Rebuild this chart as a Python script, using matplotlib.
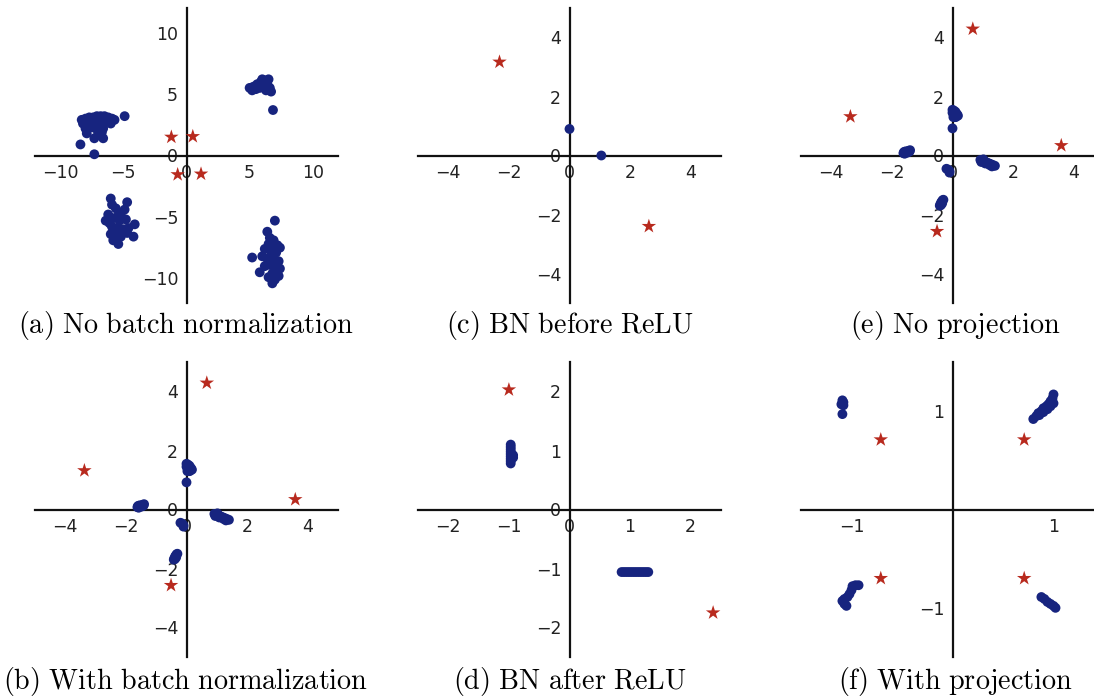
import numpy as np
import matplotlib
matplotlib.use("Agg")
import matplotlib.pyplot as plt

plt.rcParams["mathtext.fontset"] = "cm"
plt.rcParams["font.family"] = ["DejaVu Sans"]

DOT_COLOR = "#17247f"
STAR_COLOR = "#b82a1e"

# (a) No batch normalization
a_dots = [
    (-8.3, 2.9), (-8.0, 3.0), (-7.7, 3.1), (-7.4, 3.1), (-7.1, 3.2), (-6.8, 3.2),
    (-6.5, 3.2), (-6.2, 3.1), (-5.9, 3.0), (-5.7, 2.9), (-8.2, 2.6), (-7.8, 2.7),
    (-7.5, 2.8), (-7.0, 2.8), (-6.6, 2.7), (-6.3, 2.8), (-6.0, 2.6), (-8.0, 2.2),
    (-7.6, 2.3), (-7.2, 2.2), (-6.9, 2.4), (-6.6, 2.2), (-7.9, 1.8), (-7.0, 1.7),
    (-6.7, 1.9), (-7.3, 1.4), (-6.6, 1.4), (-8.4, 0.9), (-7.3, 0.1), (-4.9, 3.2),
    (5.0, 5.5), (5.3, 5.6), (5.6, 5.8), (5.9, 6.0), (6.2, 6.1), (6.5, 6.2),
    (5.5, 5.4), (5.8, 5.5), (6.1, 5.7), (6.4, 5.8), (6.6, 5.5), (6.7, 5.2),
    (6.3, 5.3), (5.2, 5.3), (6.0, 6.2), (6.85, 3.7),
    (-6.0, -3.5), (-5.9, -4.0), (-5.6, -4.3), (-4.7, -3.8), (-4.9, -4.4),
    (-5.2, -4.7), (-6.2, -4.8), (-6.4, -5.3), (-5.8, -5.1), (-5.3, -5.3),
    (-4.8, -5.2), (-4.1, -5.6), (-5.9, -5.8), (-5.5, -5.9), (-5.0, -6.0),
    (-4.6, -5.9), (-6.0, -6.4), (-5.6, -6.5), (-5.2, -6.6), (-4.2, -6.6),
    (-4.7, -6.3), (-5.8, -6.9), (-5.4, -7.2), (-6.1, -5.5), (-5.4, -4.9),
    (7.0, -5.3), (6.4, -6.2), (6.6, -6.7), (6.9, -6.9), (6.5, -7.2), (7.2, -7.3),
    (7.4, -7.5), (6.2, -7.6), (6.7, -7.7), (7.1, -7.9), (6.0, -8.2), (5.2, -8.3),
    (6.4, -8.4), (6.9, -8.5), (7.3, -8.6), (6.6, -8.9), (7.0, -9.1), (7.4, -9.2),
    (6.2, -9.0), (5.8, -9.5), (6.8, -9.6), (7.3, -9.8), (6.5, -9.9), (7.0, -10.1),
    (6.8, -10.4), (6.7, -8.1),
]
a_stars = [(-1.2, 1.5), (0.5, 1.55), (-0.7, -1.55), (1.15, -1.5)]

# (b) With batch normalization and (e) No projection
b_dots = [
    (0.0, 1.55), (0.05, 1.52), (0.1, 1.48), (0.0, 1.45), (0.08, 1.42), (0.15, 1.4),
    (0.18, 1.35), (0.05, 1.36), (0.12, 1.32), (0.03, 1.3), (0.1, 1.3),
    (0.0, 0.92),
    (-1.62, 0.08), (-1.56, 0.1), (-1.5, 0.13), (-1.45, 0.16), (-1.4, 0.18),
    (-1.58, 0.06), (-1.48, 0.1), (-1.42, 0.13), (-1.55, 0.14), (-1.6, 0.12),
    (0.92, -0.15), (0.98, -0.17), (1.05, -0.2), (1.12, -0.23), (1.19, -0.26),
    (1.26, -0.29), (1.33, -0.32), (1.4, -0.35), (0.95, -0.22), (1.08, -0.27),
    (1.22, -0.32), (1.3, -0.37), (1.02, -0.13),
    (-0.2, -0.45), (-0.14, -0.48), (-0.1, -0.53), (-0.1, -0.58),
    (-0.42, -1.7), (-0.4, -1.65), (-0.37, -1.58), (-0.33, -1.52), (-0.3, -1.5),
    (-0.38, -1.68), (-0.34, -1.62),
]
b_stars = [(0.67, 4.29), (-3.37, 1.32), (3.59, 0.34), (-0.51, -2.57)]

# (c) BN before ReLU
c_dots = [(0.0, 0.9), (1.05, 0.0)]
c_stars = [(-2.31, 3.17), (2.62, -2.4)]

# (d) BN after ReLU
d_dots = [
    (-0.97, 0.78), (-0.97, 0.82), (-0.97, 0.86), (-0.97, 0.9), (-0.97, 0.94),
    (-0.97, 0.98), (-0.97, 1.02), (-0.97, 1.06), (-0.97, 1.1), (-0.93, 0.88),
    (-0.93, 0.92),
    (0.86, -1.06), (0.9, -1.06), (0.94, -1.06), (0.98, -1.06), (1.02, -1.06),
    (1.06, -1.06), (1.1, -1.06), (1.14, -1.06), (1.18, -1.06), (1.22, -1.06),
    (1.26, -1.06), (1.3, -1.06),
]
d_stars = [(-1.0, 2.03), (2.37, -1.75)]

# (f) With projection
f_dots = [
    (-1.09, 1.11), (-1.08, 1.09), (-1.1, 1.07), (-1.08, 1.06), (-1.09, 0.97),
    (0.8, 0.92), (0.83, 0.95), (0.85, 0.98), (0.88, 1.0), (0.9, 1.03),
    (0.93, 1.05), (0.95, 1.07), (0.97, 1.1), (0.99, 1.13), (1.0, 1.17),
    (0.86, 0.96), (0.9, 0.99), (0.94, 1.02), (0.97, 1.05), (1.0, 1.08),
    (-0.96, -0.77), (-0.99, -0.78), (-1.0, -0.82), (-1.02, -0.86), (-1.04, -0.89),
    (-1.07, -0.91), (-1.09, -0.93), (-1.07, -0.96), (-1.05, -0.98), (-0.93, -0.77),
    (0.88, -0.89), (0.91, -0.91), (0.94, -0.94), (0.97, -0.96), (1.0, -0.98),
    (1.02, -1.0),
]
f_stars = [(-0.71, 0.71), (0.71, 0.71), (-0.71, -0.7), (0.71, -0.7)]

captions = [
    "(a) No batch normalization", "(c) BN before ReLU", "(e) No projection",
    "(b) With batch normalization", "(d) BN after ReLU", "(f) With projection",
]

panels = [
    # dots, stars, limit, ticks, column, row
    (a_dots, a_stars, 12, [-10, -5, 0, 5, 10], 0, 0),
    (c_dots, c_stars, 5, [-4, -2, 0, 2, 4], 1, 0),
    (b_dots, b_stars, 5, [-4, -2, 0, 2, 4], 2, 0),
    (b_dots, b_stars, 5, [-4, -2, 0, 2, 4], 0, 1),
    (d_dots, d_stars, 2.5, [-2, -1, 0, 1, 2], 1, 1),
    (f_dots, f_stars, 1.5, [-1, 1], 2, 1),
]

W, H = 1094, 700
fig = plt.figure(figsize=(W / 100, H / 100), dpi=100)

col_left = [35, 418, 801]
caption_x = [186, 570, 955]
caption_y = [326, 681]
row_top = [8, 362]
ax_w, ax_h = 303, 295


def cm_text(s):
    return "$\\mathrm{" + s.replace(" ", "\\ ") + "}$"


for caption, (dots, stars, lim, ticks, col, row) in zip(captions, panels):
    left = col_left[col] / W
    bottom = (H - row_top[row] - ax_h) / H
    ax = fig.add_axes([left, bottom, ax_w / W, ax_h / H])
    dots = np.array(dots)
    stars = np.array(stars)
    ax.scatter(dots[:, 0], dots[:, 1], s=50, color=DOT_COLOR, edgecolors="none", zorder=3)
    ax.scatter(stars[:, 0], stars[:, 1], s=120, marker="*", color=STAR_COLOR,
               edgecolors="none", zorder=3)
    ax.set_xlim(-lim, lim)
    ax.set_ylim(-lim, lim)
    for side in ("top", "right"):
        ax.spines[side].set_visible(False)
    for side in ("left", "bottom"):
        ax.spines[side].set_position(("data", 0))
        ax.spines[side].set_linewidth(1.6)
        ax.spines[side].set_color("#111111")
    ax.set_xticks(ticks)
    ax.set_yticks(ticks)
    ax.tick_params(length=0, labelsize=12.5, labelcolor="#222222", pad=6)
    ax.patch.set_alpha(0)
    fig.text(caption_x[col] / W, 1 - caption_y[row] / H, cm_text(caption),
             ha="center", va="center", fontsize=20.3)

fig.savefig("out.png", dpi=100)
